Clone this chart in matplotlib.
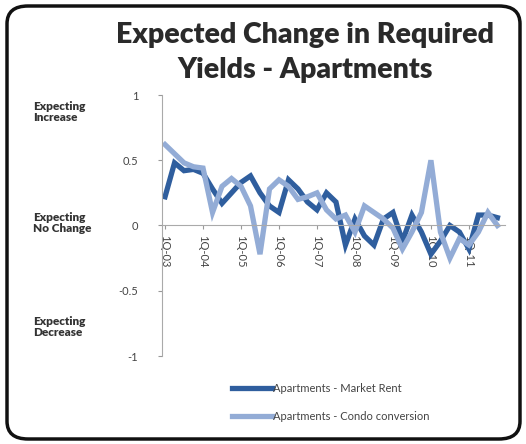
import matplotlib
matplotlib.use('Agg')
import numpy as np
import matplotlib.pyplot as plt
from matplotlib.patches import FancyBboxPatch

# quarterly survey readings, 1Q-03 .. 4Q-11
market_rent = [0.22, 0.48, 0.42, 0.43, 0.40, 0.28, 0.17, 0.25, 0.33, 0.38,
               0.25, 0.15, 0.10, 0.35, 0.28, 0.18, 0.12, 0.25, 0.18, -0.15,
               0.05, -0.08, -0.15, 0.05, 0.10, -0.12, 0.08, -0.05, -0.22, -0.12,
               0.00, -0.05, -0.18, 0.08, 0.08, 0.06]
condo_conv = [0.62, 0.55, 0.48, 0.45, 0.44, 0.10, 0.30, 0.36, 0.30, 0.15,
              -0.22, 0.28, 0.35, 0.30, 0.20, 0.22, 0.25, 0.12, 0.05, 0.08,
              -0.05, 0.15, 0.10, 0.05, -0.02, -0.18, -0.05, 0.10, 0.50, -0.05,
              -0.25, -0.10, -0.15, -0.05, 0.10, 0.00]
year_labels = ['1Q-03', '1Q-04', '1Q-05', '1Q-06', '1Q-07',
               '1Q-08', '1Q-09', '1Q-10', '1Q-11']
y_ticks = [-1, -0.5, 0, 0.5, 1]

plt.rcParams['font.family'] = ['Lato', 'DejaVu Sans']

fig = plt.figure(figsize=(5.26, 4.44), dpi=100)

# rounded outer frame
frame = FancyBboxPatch((7 / 526, 5 / 444), 513 / 526, 433 / 444,
                       boxstyle='round,pad=0,rounding_size=0.04',
                       transform=fig.transFigure, fill=False,
                       edgecolor='#111111', linewidth=2.5)
fig.patches.append(frame)

fig.text(305 / 526, 1 - 35 / 444, 'Expected Change in Required',
         ha='center', va='center', fontsize=20.5, fontweight='heavy', color='#2a2a2a')
fig.text(305 / 526, 1 - 70 / 444, 'Yields - Apartments',
         ha='center', va='center', fontsize=20.5, fontweight='heavy', color='#2a2a2a')

ax = fig.add_axes([162 / 526, 1 - 356 / 444, 343 / 526, 261 / 444])
# x axis runs along the zero line (set before the tick labels, it rebuilds ticks)
ax.spines['bottom'].set_position(('data', 0))

x = np.arange(len(market_rent))
ax.plot(x, market_rent, color='#2F5E9E', lw=3.8, solid_joinstyle='miter',
        label='Apartments - Market Rent')
ax.plot(x, condo_conv, color='#93ACD6', lw=3.8, solid_joinstyle='miter',
        label='Apartments - Condo conversion')

ax.set_ylim(-1, 1)
ax.set_xlim(-0.32, 35.8)
ax.set_yticks(y_ticks)
ax.set_yticklabels(['-1', '-0.5', '0', '0.5', '1'])
ax.set_xticks(x[::4])
ax.set_xticklabels(year_labels)
ax.tick_params(axis='x', length=3, color='#999999', labelsize=8,
               labelcolor='#444444', pad=4, labelrotation=-90)
ax.tick_params(axis='y', length=3, color='#999999', labelsize=8,
               labelcolor='#444444', pad=14)
ax.spines['bottom'].set_color('#aaaaaa')
ax.spines['left'].set_color('#aaaaaa')
ax.spines['top'].set_visible(False)
ax.spines['right'].set_visible(False)

for ty, txt in [(112, 'Expecting\nIncrease'), (223, 'Expecting\nNo Change'),
                (327, 'Expecting\nDecrease')]:
    fig.text(33 / 526, 1 - ty / 444, txt, ha='left', va='center',
             fontsize=8.5, fontweight='heavy', color='#333333', linespacing=1.0)

fig.legend(loc='upper left', bbox_to_anchor=(222 / 526, 1 - 373 / 444),
           frameon=False, fontsize=8, handlelength=3.6, handletextpad=0.1,
           labelspacing=1.5, labelcolor='#444444')

fig.savefig('out.png', dpi=100, facecolor='white')
